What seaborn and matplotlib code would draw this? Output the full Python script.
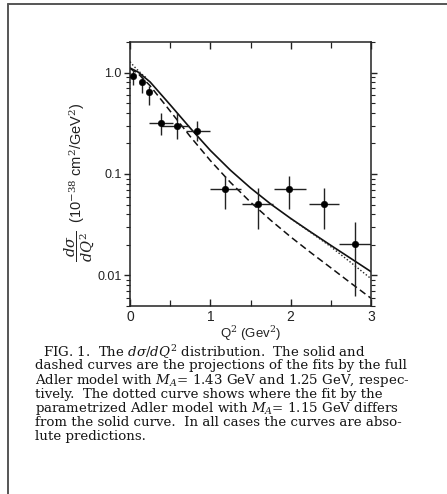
import numpy as np
import pandas as pd
import matplotlib
matplotlib.use("Agg")
import matplotlib.pyplot as plt
import seaborn as sns
from matplotlib.ticker import LogLocator, MultipleLocator, FixedFormatter, FixedLocator
from matplotlib.lines import Line2D

# Measured d(sigma)/dQ^2 points
q2 = [0.04, 0.145, 0.24, 0.39, 0.59, 0.84, 1.18, 1.59, 1.98, 2.41, 2.80]
q2_lo = [0.04, 0.145, 0.24, 0.24, 0.39, 0.70, 0.99, 1.40, 1.79, 2.23, 2.60]
q2_hi = [0.04, 0.145, 0.24, 0.54, 0.73, 0.99, 1.38, 1.78, 2.19, 2.60, 3.00]
xs = [0.93, 0.80, 0.64, 0.316, 0.30, 0.266, 0.071, 0.051, 0.071, 0.051, 0.0206]
xs_lo = [0.75, 0.63, 0.48, 0.24, 0.22, 0.21, 0.045, 0.029, 0.045, 0.029, 0.0063]
xs_hi = [1.09, 0.92, 0.73, 0.40, 0.40, 0.33, 0.095, 0.072, 0.095, 0.072, 0.034]

# Model curves
curve_q2 = [0.0, 0.1, 0.25, 0.5, 0.75, 1.0, 1.25, 1.5, 1.75, 2.0, 2.25, 2.5, 2.75, 3.0]
solid_ma143 = [1.109, 1.012, 0.808, 0.481, 0.2835, 0.1708, 0.109, 0.0729, 0.0507, 0.0365,
               0.0268, 0.0198, 0.0147, 0.0109]
dashed_ma125 = [1.096, 0.977, 0.741, 0.417, 0.234, 0.1357, 0.0827, 0.0528, 0.0351, 0.0240,
                0.0168, 0.0119, 0.0084, 0.00596]
dotted_low_q2 = [0.0, 0.05, 0.1, 0.15, 0.2]
dotted_low = [1.28, 1.15, 1.05, 0.96, 0.89]
dotted_high_q2 = [2.0, 2.25, 2.5, 2.75, 3.0]
dotted_high = [0.0365, 0.0265, 0.0192, 0.0134, 0.0093]

y_ticks = [1.0, 0.1, 0.01]
y_tick_labels = ["1.0", "0.1", "0.01"]
x_ticks = [0, 1, 2, 3]

caption_lines = [
    r"FIG. 1.  The $d\sigma/dQ^2$ distribution.  The solid and",
    "dashed curves are the projections of the fits by the full",
    r"Adler model with $M_A$= 1.43 GeV and 1.25 GeV, respec-",
    "tively.  The dotted curve shows where the fit by the",
    r"parametrized Adler model with $M_A$= 1.15 GeV differs",
    "from the solid curve.  In all cases the curves are abso-",
    "lute predictions.",
]

sns.set_style("ticks")
plt.rcParams["font.family"] = ["Liberation Sans", "DejaVu Sans"]
plt.rcParams["mathtext.fontset"] = "dejavuserif"

W, H = 447, 494
fig = plt.figure(figsize=(W / 100, H / 100), dpi=100)
fig.patch.set_facecolor("white")

# page frame (left and top edges)
fig.add_artist(Line2D([8 / W, 8 / W], [0, 1 - 4 / H], transform=fig.transFigure, color="#555555", lw=1.4))
fig.add_artist(Line2D([8 / W, 1], [1 - 4 / H, 1 - 4 / H], transform=fig.transFigure, color="#555555", lw=1.4))

ax = fig.add_axes([130 / W, 1 - 306 / H, (371 - 130) / W, (306 - 42) / H])

df_solid = pd.DataFrame({"q2": curve_q2, "val": solid_ma143})
df_dash = pd.DataFrame({"q2": curve_q2, "val": dashed_ma125})
df_dot1 = pd.DataFrame({"q2": dotted_low_q2, "val": dotted_low})
df_dot2 = pd.DataFrame({"q2": dotted_high_q2, "val": dotted_high})

sns.lineplot(data=df_solid, x="q2", y="val", ax=ax, color="#111111", lw=1.2)
sns.lineplot(data=df_dash, x="q2", y="val", ax=ax, color="#111111", lw=1.1, linestyle=(0, (4.5, 2.5)))
for d in (df_dot1, df_dot2):
    sns.lineplot(data=d, x="q2", y="val", ax=ax, color="#222222", lw=1.0, linestyle=(0, (1, 1.5)))

q = np.array(q2)
v = np.array(xs)
xerr = np.array([q - np.array(q2_lo), np.array(q2_hi) - q])
yerr = np.array([v - np.array(xs_lo), np.array(xs_hi) - v])
ax.errorbar(q, v, xerr=xerr, yerr=yerr, fmt="none", ecolor="#222222", elinewidth=1.0, capsize=0)
sns.scatterplot(x=q2, y=xs, ax=ax, color="black", s=22, edgecolor="black", zorder=5)

ax.set_yscale("log")
ax.set_xlim(0, 3)
ax.set_ylim(0.005, 2.0)

ax.yaxis.set_major_locator(FixedLocator(y_ticks))
ax.yaxis.set_major_formatter(FixedFormatter(y_tick_labels))
ax.yaxis.set_minor_locator(LogLocator(base=10, subs=np.arange(2, 10)))
ax.yaxis.set_minor_formatter(plt.NullFormatter())
ax.set_xticks(x_ticks)
ax.set_xticklabels([str(t) for t in x_ticks])
ax.xaxis.set_minor_locator(MultipleLocator(0.5))

for s in ax.spines.values():
    s.set_color("#222222")
    s.set_linewidth(1.1)

ax.tick_params(axis="y", which="both", left=True, right=True, direction="out", colors="#222222",
               labelsize=9, pad=1.5)
ax.tick_params(axis="y", which="major", length=4.5, width=1.0)
ax.tick_params(axis="y", which="minor", length=3, width=0.8)
ax.tick_params(axis="x", which="both", bottom=True, top=True, direction="in", colors="#222222",
               labelsize=10, pad=3)
ax.tick_params(axis="x", which="major", length=5, width=1.0)
ax.tick_params(axis="x", which="minor", length=4, width=0.9)

ax.set_xlabel(r"Q$^2$ (Gev$^2$)", fontsize=9.5, labelpad=0, color="#222222")
ax.set_ylabel(r"$\dfrac{d\sigma}{dQ^2}$  (10$^{-38}$ cm$^2$/GeV$^2$)", fontsize=10.5,
              color="#222222")
ax.yaxis.set_label_coords(-0.135, 0.47)

# caption
ys = [351.7, 366.0, 380.0, 394.3, 408.3, 422.7, 436.7]
for i, (line, yy) in enumerate(zip(caption_lines, ys)):
    xx = 43 if i == 0 else 35
    fig.text(xx / W, 1 - yy / H, line, ha="left", va="center", fontsize=9.6,
             family="DejaVu Serif", color="#151515")

fig.savefig("out.png", dpi=100)
